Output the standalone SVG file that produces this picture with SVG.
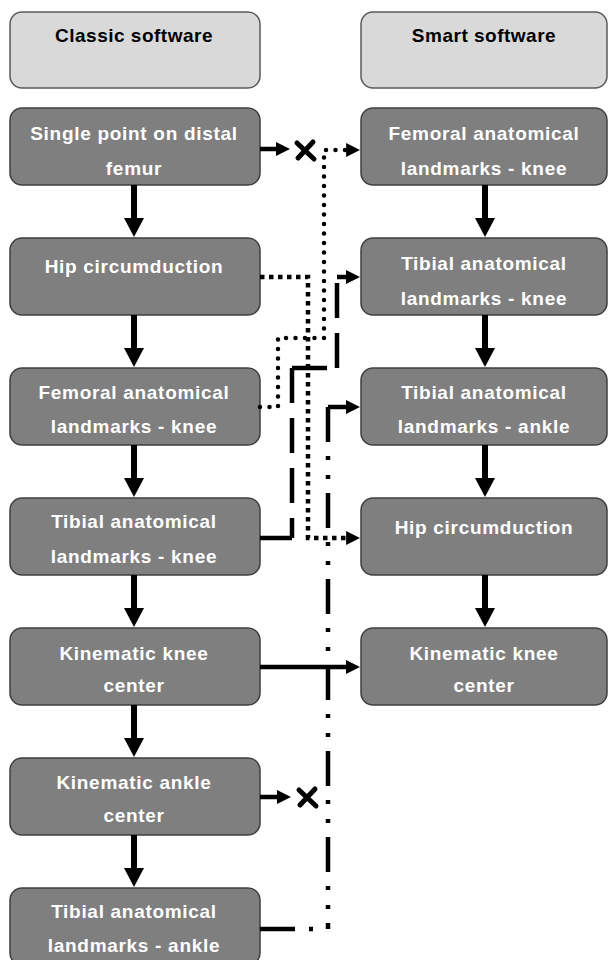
<svg xmlns="http://www.w3.org/2000/svg" width="609" height="960" viewBox="0 0 609 960">
<style>
  .hdr { fill: #d9d9d9; stroke: #595959; stroke-width: 1.5; }
  .node { fill: #7f7f7f; stroke: #3f3f3f; stroke-width: 1.5; }
  .ht { font-family: "Liberation Sans", Arial, sans-serif; font-weight: bold; font-size: 19px; fill: #000; text-anchor: middle; letter-spacing: 0.5px; }
  .nt { font-family: "Liberation Sans", Arial, sans-serif; font-weight: bold; font-size: 19px; fill: #fff; text-anchor: middle; letter-spacing: 0.7px; }
  .v { stroke: #000; stroke-width: 6; fill: none; marker-end: url(#av); }
  .h { stroke: #000; stroke-width: 4.5; fill: none; }
  .arr { marker-end: url(#ah); }
  .dot { stroke: #000; stroke-width: 4.5; fill: none; stroke-dasharray: 0 9.5; stroke-linecap: round; }
  .sq { stroke: #000; stroke-width: 4.5; fill: none; stroke-dasharray: 4.5 4.5; }
  .ld { stroke: #000; stroke-width: 4.5; fill: none; stroke-dasharray: 35 15; }
  .dd { stroke: #000; stroke-width: 4.5; fill: none; stroke-dasharray: 35 14 4 15 4 14; }
  .x { stroke: #000; stroke-width: 5; fill: none; stroke-linecap: round; }
</style>
<defs>
  <marker id="av" markerUnits="userSpaceOnUse" viewBox="0 0 19 20" markerWidth="19" markerHeight="20" refX="9" refY="10" orient="auto">
    <path d="M0,0 L19,10 L0,20 z" fill="#000"/>
  </marker>
  <marker id="ah" markerUnits="userSpaceOnUse" viewBox="0 0 14 14" markerWidth="14" markerHeight="14" refX="6" refY="7" orient="auto">
    <path d="M0,0 L14,7 L0,14 z" fill="#000"/>
  </marker>
</defs>

<!-- Left column -->
<g id="n-classic-header">
  <rect class="hdr" x="10" y="12" width="250" height="76" rx="12"/>
  <text class="ht" x="134" y="42">Classic software</text>
</g>
<g id="n-single-point">
  <rect class="node" x="10" y="108" width="250" height="77" rx="12"/>
  <text class="nt" x="134" y="140">Single point on distal</text>
  <text class="nt" x="134" y="175">femur</text>
</g>
<g id="n-hip-left">
  <rect class="node" x="10" y="238" width="250" height="77" rx="12"/>
  <text class="nt" x="134" y="273">Hip circumduction</text>
</g>
<g id="n-femoral-left">
  <rect class="node" x="10" y="368" width="250" height="77" rx="12"/>
  <text class="nt" x="134" y="399">Femoral anatomical</text>
  <text class="nt" x="134" y="433">landmarks - knee</text>
</g>
<g id="n-tibial-knee-left">
  <rect class="node" x="10" y="498" width="250" height="77" rx="12"/>
  <text class="nt" x="134" y="528">Tibial anatomical</text>
  <text class="nt" x="134" y="563">landmarks - knee</text>
</g>
<g id="n-kin-knee-left">
  <rect class="node" x="10" y="628" width="250" height="77" rx="12"/>
  <text class="nt" x="134" y="660">Kinematic knee</text>
  <text class="nt" x="134" y="692">center</text>
</g>
<g id="n-kin-ankle-left">
  <rect class="node" x="10" y="758" width="250" height="77" rx="12"/>
  <text class="nt" x="134" y="789">Kinematic ankle</text>
  <text class="nt" x="134" y="822">center</text>
</g>
<g id="n-tibial-ankle-left">
  <rect class="node" x="10" y="888" width="250" height="77" rx="12"/>
  <text class="nt" x="134" y="918">Tibial anatomical</text>
  <text class="nt" x="134" y="952">landmarks - ankle</text>
</g>

<!-- Right column -->
<g id="n-smart-header">
  <rect class="hdr" x="361" y="12" width="246" height="76" rx="12"/>
  <text class="ht" x="484" y="42">Smart software</text>
</g>
<g id="n-femoral-right">
  <rect class="node" x="361" y="108" width="246" height="77" rx="12"/>
  <text class="nt" x="484" y="140">Femoral anatomical</text>
  <text class="nt" x="484" y="175">landmarks - knee</text>
</g>
<g id="n-tibial-knee-right">
  <rect class="node" x="361" y="238" width="246" height="77" rx="12"/>
  <text class="nt" x="484" y="270">Tibial anatomical</text>
  <text class="nt" x="484" y="305">landmarks - knee</text>
</g>
<g id="n-tibial-ankle-right">
  <rect class="node" x="361" y="368" width="246" height="77" rx="12"/>
  <text class="nt" x="484" y="399">Tibial anatomical</text>
  <text class="nt" x="484" y="433">landmarks - ankle</text>
</g>
<g id="n-hip-right">
  <rect class="node" x="361" y="498" width="246" height="77" rx="12"/>
  <text class="nt" x="484" y="534">Hip circumduction</text>
</g>
<g id="n-kin-knee-right">
  <rect class="node" x="361" y="628" width="246" height="77" rx="12"/>
  <text class="nt" x="484" y="660">Kinematic knee</text>
  <text class="nt" x="484" y="692">center</text>
</g>

<g id="connectors">
  <!-- vertical flow, left -->
  <line class="v" x1="134" y1="185" x2="134" y2="227"/>
  <line class="v" x1="134" y1="315" x2="134" y2="357"/>
  <line class="v" x1="134" y1="445" x2="134" y2="487"/>
  <line class="v" x1="134" y1="575" x2="134" y2="617"/>
  <line class="v" x1="134" y1="705" x2="134" y2="747"/>
  <line class="v" x1="134" y1="835" x2="134" y2="877"/>
  <!-- vertical flow, right -->
  <line class="v" x1="485" y1="185" x2="485" y2="227"/>
  <line class="v" x1="485" y1="315" x2="485" y2="357"/>
  <line class="v" x1="485" y1="445" x2="485" y2="487"/>
  <line class="v" x1="485" y1="575" x2="485" y2="617"/>

  <!-- single point -> X -->
  <line class="h arr" x1="260" y1="149" x2="282" y2="149"/>
  <path class="x" d="M297,143 L314,159 M313,142 L298,158"/>

  <!-- femoral left -> femoral right (round dots) -->
  <path class="dot" d="M260,407 H278 V338 H324 V150 H352"/>
  <path d="M352,150 H352.1" class="h arr" stroke-width="0"/>

  <!-- hip left -> hip right (square dots) -->
  <path class="sq" d="M260,277 H308 V538 H352"/>
  <path d="M352,538 H352.1" class="h arr" stroke-width="0"/>

  <!-- tibial knee left -> tibial knee right (long dash) -->
  <path class="ld" d="M260,538 H292 M292,368 V538 M292,368 H337 M337,368 V281"/>
  <line class="h arr" x1="337" y1="277" x2="352" y2="277"/>

  <!-- kinematic knee left -> right -->
  <line class="h arr" x1="260" y1="667" x2="352" y2="667"/>

  <!-- kinematic ankle -> X -->
  <line class="h arr" x1="260" y1="797" x2="283" y2="797"/>
  <path class="x" d="M299,790 L316,806 M315,789 L300,805"/>

  <!-- tibial ankle left -> tibial ankle right (dash-dot) -->
  <path class="dd" d="M260,929 H328 M328,407 V929"/>
  <line class="h arr" x1="328" y1="407" x2="352" y2="407"/>
</g>
</svg>
